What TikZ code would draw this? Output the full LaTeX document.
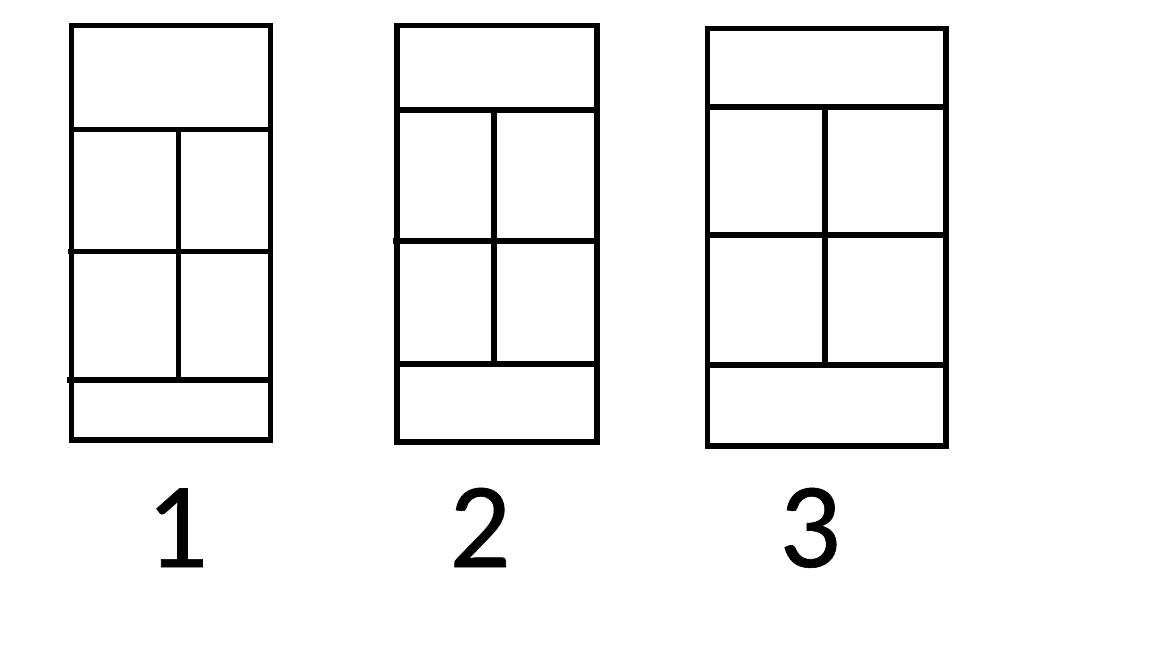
\documentclass[tikz,border=0pt]{standalone}
\usepackage{fontspec}
\setmainfont{Carlito}
\newfontfamily\digitfont[FakeBold=0.5]{Carlito}
\begin{document}
\begin{tikzpicture}[x=0.5pt,y=-0.5pt,
  frame/.style={draw=black,line width=2.6pt},
  lbl/.style={font=\digitfont\fontsize{61}{70}\selectfont,inner sep=0pt,anchor=base}]
\useasboundingbox[fill=white] (0,0) rectangle (1152,648);
% box 1
\draw[frame] (71.5,25.5) rectangle (270.5,440);
\draw[frame] (71.5,129.5) -- (270.5,129.5);
\draw[frame] (68,251.5) -- (270.5,251.5);
\draw[frame] (67,380) -- (270.5,380);
\draw[frame] (178.5,129.5) -- (178.5,380);
% box 2
\draw[frame] (397,25.5) rectangle (597,442);
\draw[frame] (397,110) -- (597,110);
\draw[frame] (393,241) -- (597,241);
\draw[frame] (397,364) -- (597,364);
\draw[frame] (494,110) -- (494,364);
% box 3
\draw[frame] (707.5,28.5) rectangle (946,446);
\draw[frame] (707.5,107) -- (946,107);
\draw[frame] (707.5,235) -- (946,235);
\draw[frame] (707.5,365) -- (946,365);
\draw[frame] (825,107) -- (825,365);
% labels
\node[lbl] (l1) at (177,567) {1};
\node[lbl] (l2) at (480,567) {2};
\node[lbl] (l3) at (810,567) {3};
\end{tikzpicture}
\end{document}
